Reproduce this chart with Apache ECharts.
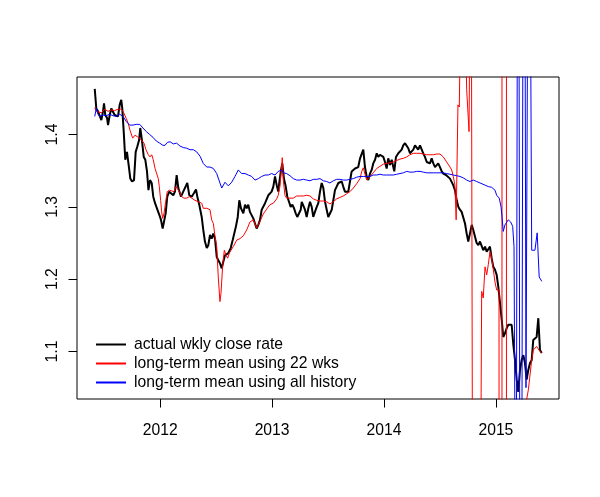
<!DOCTYPE html>
<html>
<head>
<meta charset="utf-8">
<script src="https://cdn.jsdelivr.net/npm/echarts@6/dist/echarts.min.js"></script>
<style>html,body{margin:0;padding:0;background:#fff;}#c{width:600px;height:497px;}</style>
</head>
<body>
<div id="c"></div>
<script>
// decimal-year dates and values
const blackDates = [2011.415,2011.429,2011.444,2011.459,2011.474,2011.489,2011.498,2011.509,2011.525,2011.534,2011.549,2011.563,2011.578,2011.593,2011.608,2011.623,2011.638,2011.652,2011.661,2011.674,2011.688,2011.703,2011.718,2011.733,2011.748,2011.766,2011.781,2011.795,2011.811,2011.822,2011.837,2011.853,2011.867,2011.882,2011.895,2011.909,2011.924,2011.938,2011.954,2011.969,2011.992,2012.007,2012.022,2012.034,2012.049,2012.063,2012.081,2012.097,2012.117,2012.132,2012.147,2012.162,2012.186,2012.206,2012.222,2012.242,2012.260,2012.282,2012.302,2012.320,2012.332,2012.349,2012.371,2012.385,2012.400,2012.416,2012.430,2012.445,2012.460,2012.475,2012.490,2012.505,2012.519,2012.534,2012.550,2012.564,2012.579,2012.594,2012.609,2012.630,2012.648,2012.662,2012.677,2012.693,2012.707,2012.722,2012.743,2012.758,2012.773,2012.787,2012.802,2012.818,2012.832,2012.847,2012.862,2012.877,2012.892,2012.907,2012.921,2012.937,2012.952,2012.966,2012.981,2012.996,2013.011,2013.026,2013.041,2013.055,2013.064,2013.080,2013.091,2013.106,2013.122,2013.136,2013.151,2013.166,2013.181,2013.196,2013.211,2013.225,2013.240,2013.256,2013.265,2013.279,2013.294,2013.309,2013.324,2013.339,2013.354,2013.368,2013.383,2013.399,2013.413,2013.428,2013.443,2013.458,2013.473,2013.488,2013.502,2013.517,2013.533,2013.547,2013.562,2013.577,2013.592,2013.607,2013.622,2013.636,2013.651,2013.667,2013.681,2013.696,2013.711,2013.726,2013.741,2013.756,2013.770,2013.786,2013.801,2013.815,2013.830,2013.845,2013.860,2013.875,2013.890,2013.904,2013.920,2013.935,2013.949,2013.964,2013.979,2013.994,2014.009,2014.024,2014.038,2014.054,2014.069,2014.083,2014.092,2014.107,2014.128,2014.143,2014.158,2014.172,2014.188,2014.203,2014.217,2014.232,2014.248,2014.262,2014.277,2014.292,2014.306,2014.322,2014.337,2014.351,2014.366,2014.382,2014.396,2014.411,2014.426,2014.441,2014.456,2014.471,2014.485,2014.500,2014.516,2014.530,2014.554,2014.566,2014.590,2014.605,2014.619,2014.634,2014.650,2014.664,2014.679,2014.694,2014.709,2014.724,2014.739,2014.753,2014.768,2014.784,2014.798,2014.813,2014.828,2014.843,2014.858,2014.873,2014.887,2014.903,2014.918,2014.932,2014.947,2014.962,2014.977,2014.992,2015.007,2015.021,2015.037,2015.052,2015.066,2015.081,2015.096,2015.111,2015.126,2015.141,2015.155,2015.171,2015.186,2015.200,2015.215,2015.230,2015.245,2015.260,2015.275,2015.289,2015.305,2015.320,2015.334,2015.349,2015.364,2015.379,2015.394,2015.410];
const blackRate = [1.463,1.436,1.432,1.434,1.420,1.432,1.443,1.427,1.423,1.413,1.427,1.436,1.434,1.427,1.428,1.425,1.441,1.448,1.436,1.404,1.365,1.376,1.358,1.339,1.335,1.337,1.376,1.383,1.392,1.409,1.392,1.369,1.365,1.349,1.323,1.337,1.333,1.314,1.305,1.303,1.289,1.282,1.270,1.268,1.291,1.314,1.321,1.319,1.316,1.321,1.344,1.326,1.314,1.321,1.323,1.333,1.316,1.314,1.319,1.324,1.314,1.303,1.286,1.268,1.252,1.243,1.247,1.261,1.256,1.263,1.256,1.231,1.226,1.222,1.215,1.224,1.233,1.231,1.236,1.243,1.254,1.256,1.273,1.286,1.309,1.298,1.291,1.303,1.298,1.303,1.293,1.291,1.284,1.277,1.270,1.275,1.282,1.296,1.298,1.305,1.305,1.316,1.314,1.321,1.328,1.342,1.330,1.321,1.333,1.351,1.360,1.339,1.328,1.314,1.307,1.300,1.303,1.298,1.291,1.286,1.286,1.296,1.307,1.305,1.296,1.286,1.298,1.307,1.300,1.286,1.293,1.300,1.305,1.321,1.333,1.326,1.307,1.296,1.286,1.284,1.296,1.309,1.323,1.328,1.333,1.335,1.335,1.328,1.321,1.323,1.321,1.335,1.349,1.351,1.353,1.351,1.355,1.367,1.369,1.379,1.355,1.342,1.337,1.346,1.351,1.360,1.365,1.374,1.369,1.372,1.374,1.369,1.362,1.353,1.367,1.358,1.365,1.355,1.349,1.369,1.374,1.376,1.379,1.385,1.388,1.390,1.381,1.374,1.372,1.379,1.385,1.383,1.379,1.385,1.383,1.374,1.369,1.362,1.362,1.360,1.367,1.360,1.355,1.353,1.360,1.355,1.349,1.346,1.344,1.342,1.339,1.337,1.330,1.323,1.309,1.300,1.296,1.293,1.291,1.277,1.263,1.252,1.263,1.275,1.268,1.259,1.250,1.247,1.252,1.250,1.240,1.245,1.238,1.238,1.245,1.229,1.217,1.213,1.206,1.190,1.167,1.144,1.120,1.125,1.132,1.137,1.139,1.137,1.111,1.088,1.061,1.044,1.074,1.088,1.095,1.084,1.061,1.074,1.084,1.088,1.116,1.118,1.120,1.146,1.102,1.098];

const redDates = [2011.415,2011.429,2011.444,2011.474,2011.504,2011.534,2011.563,2011.593,2011.623,2011.652,2011.668,2011.683,2011.697,2011.715,2011.730,2011.754,2011.775,2011.795,2011.813,2011.835,2011.855,2011.873,2011.894,2011.909,2011.924,2011.938,2011.954,2011.969,2011.983,2011.992,2012.004,2012.013,2012.022,2012.034,2012.049,2012.063,2012.081,2012.103,2012.123,2012.141,2012.153,2012.171,2012.192,2012.213,2012.237,2012.260,2012.282,2012.311,2012.340,2012.371,2012.385,2012.416,2012.445,2012.460,2012.475,2012.490,2012.505,2012.519,2012.534,2012.543,2012.559,2012.573,2012.588,2012.603,2012.618,2012.633,2012.653,2012.684,2012.713,2012.743,2012.773,2012.802,2012.832,2012.862,2012.877,2012.892,2012.921,2012.952,2012.981,2013.011,2013.041,2013.055,2013.071,2013.086,2013.091,2013.100,2013.115,2013.130,2013.160,2013.189,2013.220,2013.249,2013.279,2013.309,2013.339,2013.368,2013.399,2013.428,2013.458,2013.488,2013.517,2013.547,2013.577,2013.607,2013.636,2013.667,2013.696,2013.726,2013.756,2013.786,2013.801,2013.815,2013.830,2013.845,2013.860,2013.875,2013.904,2013.935,2013.964,2013.994,2014.024,2014.054,2014.083,2014.113,2014.143,2014.172,2014.203,2014.232,2014.262,2014.292,2014.322,2014.351,2014.382,2014.411,2014.441,2014.471,2014.485,2014.500,2014.530,2014.560,2014.590,2014.605,2014.619,2014.634,2014.645,2014.661,2014.673,2014.691,2014.711,2014.728,2014.739,2014.760,2014.778,2014.797,2014.817,2014.837,2014.856,2014.873,2014.887,2014.903,2014.918,2014.932,2014.947,2014.962,2014.977,2014.992,2015.007,2015.028,2015.046,2015.066,2015.084,2015.102,2015.119,2015.139,2015.158,2015.177,2015.196,2015.214,2015.233,2015.252,2015.271,2015.290,2015.320,2015.334,2015.364,2015.379,2015.394,2015.410];
const redMean22 = [1.437,1.432,1.432,1.430,1.435,1.432,1.434,1.433,1.435,1.435,1.432,1.427,1.422,1.415,1.406,1.395,1.399,1.397,1.395,1.392,1.388,1.379,1.372,1.369,1.372,1.365,1.353,1.351,1.339,1.328,1.309,1.293,1.284,1.291,1.307,1.321,1.323,1.322,1.321,1.328,1.330,1.321,1.314,1.312,1.312,1.314,1.312,1.309,1.307,1.305,1.298,1.298,1.296,1.282,1.277,1.259,1.245,1.203,1.169,1.180,1.220,1.240,1.233,1.229,1.236,1.240,1.245,1.254,1.256,1.260,1.268,1.279,1.282,1.271,1.269,1.280,1.290,1.297,1.303,1.305,1.311,1.316,1.329,1.358,1.368,1.337,1.316,1.312,1.312,1.312,1.315,1.315,1.315,1.316,1.315,1.311,1.309,1.308,1.308,1.307,1.304,1.307,1.311,1.313,1.315,1.318,1.321,1.326,1.332,1.339,1.349,1.354,1.345,1.337,1.337,1.342,1.347,1.353,1.356,1.359,1.360,1.361,1.362,1.364,1.366,1.367,1.369,1.372,1.374,1.374,1.374,1.373,1.372,1.372,1.372,1.373,1.374,1.373,1.369,1.362,1.355,1.351,1.342,1.330,1.282,1.441,1.438,1.650,1.620,1.550,1.462,1.404,1.800,0.500,0.400,0.600,0.700,1.183,1.174,1.217,1.206,1.220,1.238,1.229,1.213,1.196,1.185,1.185,-20,30,30,-20,0.5,0.6,0.7,0.9,0.8,1.0,0.9,1.02,1.03,1.047,1.088,1.102,1.107,1.107,1.100,1.098];

const blueDates = [2011.415,2011.429,2011.444,2011.459,2011.489,2011.518,2011.549,2011.578,2011.608,2011.638,2011.668,2011.697,2011.727,2011.757,2011.786,2011.817,2011.846,2011.876,2011.906,2011.936,2011.965,2011.996,2012.025,2012.043,2012.063,2012.088,2012.117,2012.147,2012.177,2012.206,2012.237,2012.266,2012.296,2012.326,2012.356,2012.385,2012.416,2012.445,2012.475,2012.505,2012.534,2012.550,2012.579,2012.609,2012.639,2012.668,2012.698,2012.728,2012.758,2012.787,2012.818,2012.847,2012.877,2012.907,2012.937,2012.966,2012.996,2013.026,2013.055,2013.086,2013.100,2013.130,2013.160,2013.189,2013.220,2013.249,2013.279,2013.309,2013.339,2013.368,2013.399,2013.428,2013.458,2013.488,2013.517,2013.547,2013.577,2013.607,2013.636,2013.667,2013.696,2013.726,2013.756,2013.786,2013.815,2013.845,2013.875,2013.904,2013.935,2013.964,2013.994,2014.024,2014.054,2014.083,2014.113,2014.143,2014.172,2014.203,2014.232,2014.262,2014.292,2014.322,2014.351,2014.382,2014.411,2014.441,2014.471,2014.500,2014.530,2014.560,2014.590,2014.619,2014.650,2014.679,2014.709,2014.739,2014.768,2014.798,2014.828,2014.858,2014.903,2014.932,2014.947,2014.962,2014.992,2015.007,2015.030,2015.046,2015.055,2015.066,2015.081,2015.096,2015.111,2015.132,2015.150,2015.162,2015.180,2015.200,2015.215,2015.233,2015.251,2015.269,2015.296,2015.320,2015.334,2015.349,2015.369,2015.387,2015.410];
const blueMeanAll = [1.425,1.436,1.428,1.425,1.427,1.426,1.428,1.426,1.425,1.428,1.425,1.418,1.413,1.413,1.414,1.414,1.409,1.404,1.400,1.396,1.391,1.388,1.385,1.385,1.389,1.390,1.387,1.388,1.384,1.382,1.381,1.379,1.379,1.376,1.370,1.360,1.355,1.355,1.353,1.346,1.333,1.326,1.334,1.329,1.334,1.342,1.351,1.346,1.346,1.344,1.342,1.337,1.339,1.342,1.344,1.344,1.346,1.344,1.349,1.351,1.347,1.346,1.343,1.339,1.337,1.337,1.338,1.337,1.336,1.338,1.338,1.339,1.336,1.335,1.333,1.336,1.338,1.338,1.337,1.337,1.338,1.339,1.341,1.342,1.342,1.342,1.342,1.344,1.344,1.345,1.344,1.344,1.344,1.344,1.345,1.346,1.347,1.349,1.348,1.348,1.349,1.349,1.348,1.347,1.347,1.347,1.347,1.347,1.347,1.346,1.345,1.344,1.343,1.342,1.340,1.337,1.335,1.337,1.335,1.333,1.330,1.328,1.329,1.327,1.323,1.316,1.312,1.300,1.286,1.266,1.275,1.277,1.282,1.279,1.273,1.245,0.7,2.2,0.8,1.0,2.2,1.05,2.0,1.240,1.240,1.240,1.264,1.203,1.197];

const yearTicks = [2012, 2013, 2014, 2015];
const rateTicks = [1.1, 1.2, 1.3, 1.4];
const seriesNames = ['actual wkly close rate', 'long-term mean using 22 wks', 'long-term mean using all history'];

function pairs(xs, ys) { return xs.map((x, i) => [x, ys[i]]); }

const FONT = '"Liberation Sans", Arial, Helvetica, sans-serif';
const chart = echarts.init(document.getElementById('c'), null, { renderer: 'canvas' });
chart.setOption({
  animation: false,
  backgroundColor: '#ffffff',
  grid: { left: 77, top: 77, width: 482, height: 322, show: true, borderColor: '#000', borderWidth: 1, backgroundColor: 'transparent', containLabel: false },
  xAxis: {
    type: 'value', min: 2011.2565, max: 2015.564,
    axisLine: { show: false },
    splitLine: { show: false },
    axisTick: { show: true, length: 8.5, inside: false, customValues: yearTicks, lineStyle: { color: '#000', width: 1 } },
    axisLabel: { customValues: yearTicks, margin: 24, color: '#000', fontSize: 15.7, fontFamily: FONT, formatter: v => String(v) }
  },
  yAxis: {
    type: 'value', min: 1.0343, max: 1.4795,
    axisLine: { show: false },
    splitLine: { show: false },
    axisTick: { show: true, length: 8.5, customValues: rateTicks, lineStyle: { color: '#000', width: 1 } },
    axisLabel: { customValues: rateTicks, rotate: 90, margin: 16, color: '#000', fontSize: 15.7, fontFamily: FONT, formatter: v => v.toFixed(1) }
  },
  legend: {
    show: true, orient: 'vertical', left: 91, top: 330, itemGap: 0, itemWidth: 30, itemHeight: 2,
    icon: 'rect',
    selectedMode: false,
    data: seriesNames,
    textStyle: { color: '#000', fontSize: 15.7, fontFamily: FONT, lineHeight: 19, padding: [0, 0, 0, 3] }
  },
  series: [
    { name: seriesNames[0], type: 'line', data: pairs(blackDates, blackRate), symbol: 'none', showSymbol: false, clip: true, lineStyle: { color: '#000', width: 2 }, itemStyle: { color: '#000' }, z: 2 },
    { name: seriesNames[1], type: 'line', data: pairs(redDates, redMean22), symbol: 'none', showSymbol: false, clip: true, lineStyle: { color: '#ff0000', width: 1 }, itemStyle: { color: '#ff0000' }, z: 3 },
    { name: seriesNames[2], type: 'line', data: pairs(blueDates, blueMeanAll), symbol: 'none', showSymbol: false, clip: true, lineStyle: { color: '#0000ff', width: 1 }, itemStyle: { color: '#0000ff' }, z: 4 }
  ]
});
</script>
</body>
</html>
